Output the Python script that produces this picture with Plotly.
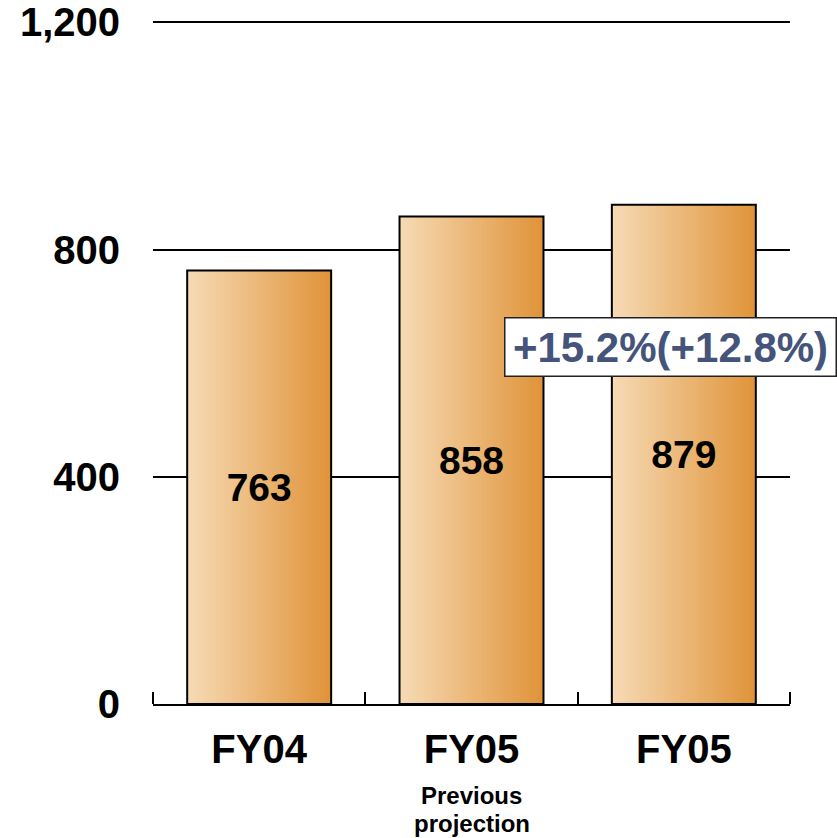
import plotly.graph_objects as go

categories = ["FY04", "FY05", "FY05"]
sublabels = [[], ["Previous", "projection"], []]
values = [763, 858, 879]
value_labels = ["763", "858", "879"]
change_label = "+15.2%(+12.8%)"
y_ticks = [0, 400, 800, 1200]

FONT = "Liberation Sans, Arial, sans-serif"
xs = list(range(len(categories)))
bar_w = 0.678
N = 40
c0 = (246, 218, 180)
c1 = (224, 148, 58)

fig = go.Figure()
sw = bar_w / N
for i in range(N):
    t = i / (N - 1)
    col = "rgb(%d,%d,%d)" % tuple(round(a + (b - a) * t) for a, b in zip(c0, c1))
    off = -bar_w / 2 + i * sw if i < N - 1 else bar_w / 2 - sw * 1.3
    fig.add_trace(go.Bar(
        x=xs, y=values, width=[sw * 1.3] * len(xs), offset=[off] * len(xs),
        marker=dict(color=col, line=dict(width=0)),
        showlegend=False, hoverinfo="skip"))

fig.add_trace(go.Bar(
    x=xs, y=values, width=[bar_w] * len(xs),
    marker=dict(color="rgba(0,0,0,0)", line=dict(color="black", width=2)),
    text=value_labels, textposition="inside", insidetextanchor="middle",
    textfont=dict(family=FONT, size=39, color="black", weight="bold"),
    showlegend=False, hoverinfo="skip"))

for x, lines in zip(xs, sublabels):
    for j, s in enumerate(lines):
        fig.add_annotation(x=x, y=0, yref="y", text=s, showarrow=False,
                           yanchor="middle", yshift=-91 - 28 * j,
                           font=dict(family=FONT, size=24, color="black", weight="bold"))

fig.add_annotation(x=1.935, y=628, text=change_label, showarrow=False,
                   bgcolor="white", bordercolor="#222222", borderwidth=1.5,
                   borderpad=5, width=320, align="center",
                   font=dict(family=FONT, size=42, color="#44547A", weight="bold"))

fig.update_layout(
    width=837, height=838, barmode="overlay",
    margin=dict(l=153, r=47, t=20, b=134, autoexpand=False),
    plot_bgcolor="white", paper_bgcolor="white",
    xaxis=dict(range=[-0.5, 2.5], tickvals=xs, ticktext=categories, automargin=False,
               showgrid=False, zeroline=False, showline=True, linecolor="black", linewidth=2,
               ticks="", ticklabelstandoff=9,
               minor=dict(tickvals=[-0.5, 0.5, 1.5, 2.5], ticks="inside", ticklen=12,
                          tickcolor="black", tickwidth=1.5, showgrid=False),
               tickfont=dict(family=FONT, size=40, color="black", weight="bold")),
    yaxis=dict(range=[0, 1204], tickvals=y_ticks, tickformat=",", automargin=False,
               ticklabeloverflow="allow",
               showgrid=True, gridcolor="black", gridwidth=1.5, zeroline=False,
               showline=False, ticks="", ticklabelstandoff=32,
               tickfont=dict(family=FONT, size=40, color="black", weight="bold")),
)
fig.write_html("out.html", config={"displayModeBar": False},
               post_script="document.body.style.margin='0';document.body.style.overflow='hidden';")
